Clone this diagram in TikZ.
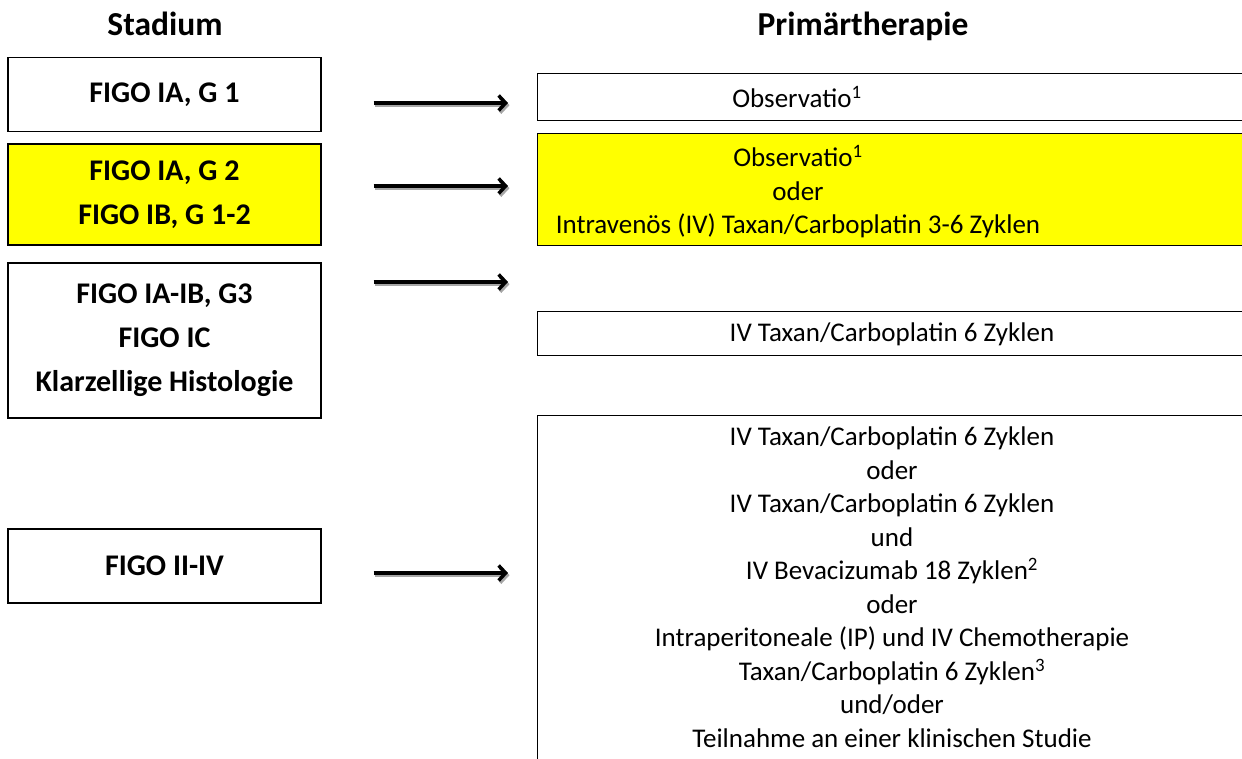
\documentclass[tikz,border=0pt]{standalone}
\usepackage{fontspec}
\setmainfont{Carlito}
\usetikzlibrary{arrows.meta}
\definecolor{gelb}{RGB}{255,255,0}
\begin{document}
\begin{tikzpicture}[x=1pt, y=-1pt,
    stadium/.style={draw, line width=1.2pt, minimum width=313pt, inner sep=0pt, align=center,
      font=\fontsize{30}{44}\selectfont\bfseries},
    therapie/.style={draw, line width=1.2pt, anchor=north west, inner sep=0pt},
    txt/.style={align=center, inner sep=0pt, font=\fontsize{27}{33.5}\selectfont},
    kopf/.style={anchor=base, inner sep=0pt, font=\fontsize{33.5}{40}\selectfont\bfseries},
    pfeil/.style={line width=3.5pt, -{Straight Barb[length=7pt, width=15pt]}, shorten <=52pt, shorten >=29pt},
    pfeilschatten/.style={pfeil, draw=black!35, transform canvas={shift={(1.5pt,-2.2pt)}}}]
    \clip (0,0) rectangle (1242,758);
    \useasboundingbox (0,0) rectangle (1242,758);

    \node (kS) [kopf] at (165,35) {Stadium};
    \node (kP) [kopf] at (863,35) {Primärtherapie};

    % links
    \node (s1) [stadium, minimum height=74pt] at (164.5,94.5) {FIGO IA, G 1};
    \node (s2) [stadium, minimum height=101pt, fill=gelb] at (164.5,194.5) {FIGO IA, G 2\\FIGO IB, G 1-2};
    \node (s3) [stadium, minimum height=155pt] at (164.5,340.5) {FIGO IA-IB, G3\\FIGO IC\\Klarzellige Histologie};
    \node (s4) [stadium, minimum height=74pt] at (164.5,566) {FIGO II-IV};

    % rechts
    \node (t1) [therapie, minimum width=760pt, minimum height=47pt] at (537,73) {};
    \node (t2) [therapie, minimum width=760pt, minimum height=112pt, fill=gelb] at (537,133) {};
    \node (t3) [therapie, minimum width=760pt, minimum height=44pt] at (537,311) {};
    \node (t4) [therapie, minimum width=760pt, minimum height=400pt] at (537,415) {};

    \node (x1) [txt] at (797,97) {Observatio\textsuperscript{1}};
    \node (x2) [txt] at (798,192) {Observatio\textsuperscript{1}\\oder\\Intravenös (IV) Taxan/Carboplatin 3-6 Zyklen};
    \node (x3) [txt] at (892,334) {IV Taxan/Carboplatin 6 Zyklen};
    \node (x4) [txt] at (892,587) {IV Taxan/Carboplatin 6 Zyklen\\oder\\IV Taxan/Carboplatin 6 Zyklen\\und\\IV Bevacizumab 18 Zyklen\textsuperscript{2}\\oder\\Intraperitoneale (IP) und IV Chemotherapie\\Taxan/Carboplatin 6 Zyklen\textsuperscript{3}\\und/oder\\Teilnahme an einer klinischen Studie};

    \foreach \a/\b/\dy in {s1/t1/-8.5, s2/t2/8.5, s3/t3/58.5, s4/t4/-7} {
      \draw [pfeilschatten] ([yshift=\dy]\a.east) -- ([yshift=\dy]\a.east -| \b.west);
      \draw [pfeil] ([yshift=\dy]\a.east) -- ([yshift=\dy]\a.east -| \b.west);
    }
\end{tikzpicture}
\end{document}
